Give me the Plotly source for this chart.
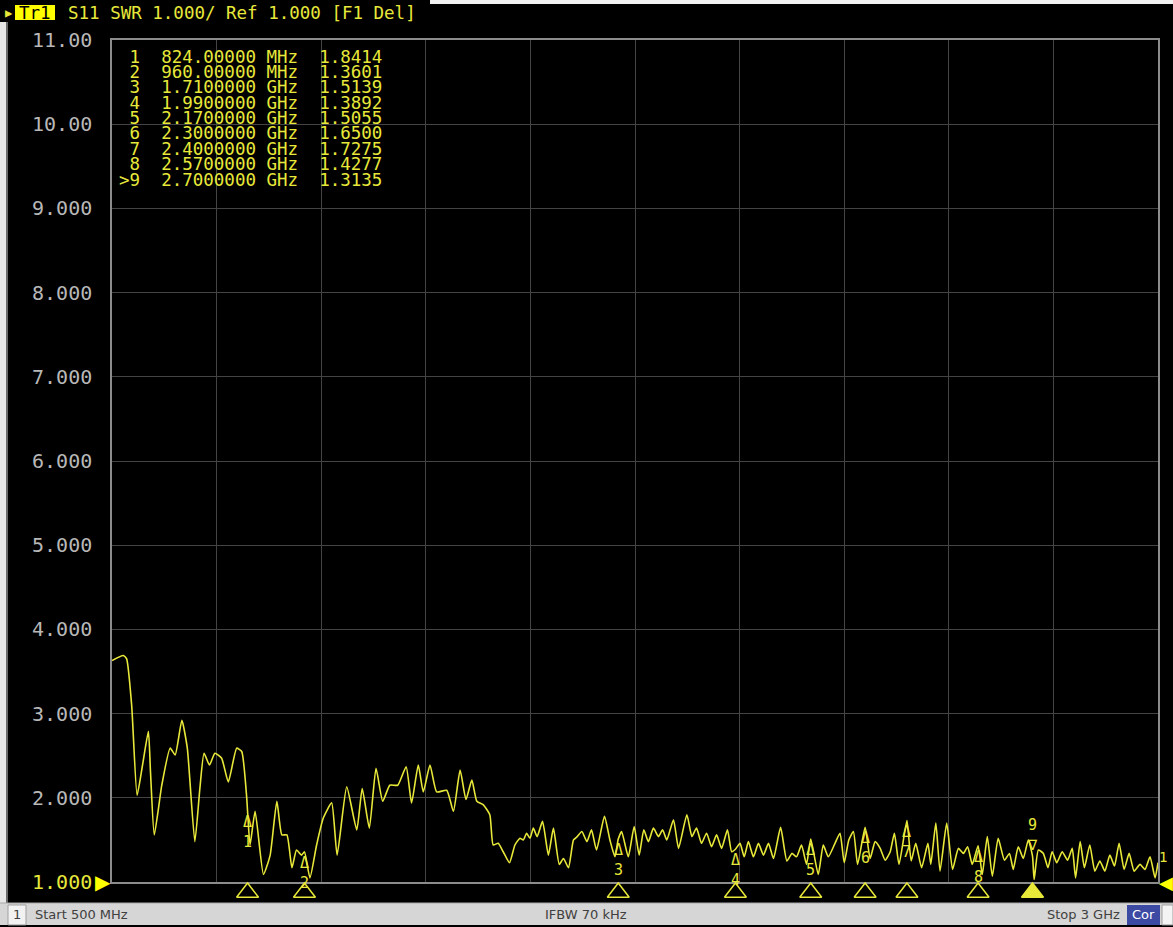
import plotly.graph_objects as go

# ---------------- data ----------------
freq_mhz = [
    500, 527, 535, 547, 560, 573, 587, 592, 601, 619,
    639, 651, 667, 680, 698, 710, 720, 733, 746, 762,
    778, 798, 810, 822, 824, 830, 842, 862, 878, 894,
    906, 918, 930, 941, 953, 960, 973, 989, 1005, 1025,
    1038, 1061, 1085, 1098, 1115, 1131, 1147, 1164, 1183, 1203,
    1216, 1232, 1244, 1260, 1276, 1300, 1316, 1332, 1346, 1360,
    1372, 1387, 1403, 1411, 1423, 1435, 1450, 1463, 1475, 1483,
    1491, 1499, 1507, 1516, 1529, 1543, 1555, 1569, 1579, 1591,
    1603, 1612, 1623, 1635, 1646, 1658, 1677, 1690, 1702, 1710,
    1718, 1734, 1748, 1760, 1771, 1782, 1794, 1806, 1816, 1826,
    1842, 1854, 1874, 1886, 1897, 1909, 1921, 1933, 1945, 1957,
    1971, 1981, 1990, 2001, 2011, 2021, 2033, 2045, 2057, 2069,
    2081, 2098, 2113, 2125, 2136, 2148, 2160, 2170, 2188, 2200,
    2212, 2228, 2240, 2250, 2261, 2272, 2282, 2300, 2312, 2324,
    2336, 2348, 2360, 2370, 2381, 2400, 2410, 2421, 2435, 2450,
    2457, 2469, 2479, 2495, 2509, 2523, 2535, 2545, 2556, 2570,
    2580, 2592, 2604, 2618, 2633, 2645, 2654, 2666, 2678, 2690,
    2700, 2704, 2714, 2726, 2737, 2747, 2758, 2771, 2784, 2795,
    2803, 2814, 2824, 2837, 2849, 2861, 2873, 2885, 2896, 2907,
    2919, 2931, 2943, 2957, 2969, 2981, 2993, 3000,
]
swr = [
    3.63, 3.69, 3.65, 3.10, 2.03, 2.39, 2.79, 2.31, 1.56, 2.15,
    2.59, 2.51, 2.92, 2.59, 1.48, 2.11, 2.53, 2.39, 2.53, 2.47,
    2.19, 2.59, 2.55, 2.00, 1.84, 1.44, 1.84, 1.09, 1.32, 1.96,
    1.56, 1.56, 1.17, 1.38, 1.32, 1.36, 1.05, 1.44, 1.76, 1.94,
    1.32, 2.13, 1.62, 2.11, 1.64, 2.35, 1.96, 2.15, 2.15, 2.37,
    1.94, 2.39, 2.07, 2.39, 2.07, 2.09, 1.84, 2.33, 1.98, 2.21,
    1.96, 1.92, 1.80, 1.44, 1.46, 1.36, 1.23, 1.44, 1.52, 1.50,
    1.58, 1.52, 1.64, 1.54, 1.72, 1.32, 1.64, 1.21, 1.28, 1.17,
    1.50, 1.54, 1.60, 1.48, 1.62, 1.38, 1.78, 1.50, 1.30, 1.51,
    1.60, 1.30, 1.66, 1.32, 1.62, 1.48, 1.64, 1.54, 1.62, 1.50,
    1.74, 1.40, 1.80, 1.54, 1.64, 1.46, 1.58, 1.42, 1.56, 1.40,
    1.62, 1.36, 1.39, 1.46, 1.30, 1.48, 1.30, 1.46, 1.32, 1.46,
    1.28, 1.65, 1.25, 1.34, 1.30, 1.44, 1.21, 1.51, 1.09, 1.44,
    1.30, 1.46, 1.58, 1.23, 1.50, 1.60, 1.21, 1.65, 1.28, 1.48,
    1.40, 1.26, 1.36, 1.58, 1.21, 1.73, 1.25, 1.46, 1.17, 1.46,
    1.21, 1.70, 1.13, 1.70, 1.15, 1.40, 1.34, 1.42, 1.21, 1.43,
    1.09, 1.54, 1.07, 1.52, 1.26, 1.34, 1.15, 1.42, 1.28, 1.50,
    1.31, 1.03, 1.38, 1.34, 1.17, 1.36, 1.23, 1.36, 1.26, 1.40,
    1.05, 1.48, 1.17, 1.44, 1.13, 1.25, 1.13, 1.32, 1.19, 1.46,
    1.15, 1.34, 1.13, 1.21, 1.15, 1.30, 1.05, 1.23,
]

marker_ids = ["1", "2", "3", "4", "5", "6", "7", "8", "9"]
marker_freq_mhz = [824, 960, 1710, 1990, 2170, 2300, 2400, 2570, 2700]
marker_freq_text = ["824.00000 MHz", "960.00000 MHz", "1.7100000 GHz",
                    "1.9900000 GHz", "2.1700000 GHz", "2.3000000 GHz",
                    "2.4000000 GHz", "2.5700000 GHz", "2.7000000 GHz"]
marker_swr = [1.8414, 1.3601, 1.5139, 1.3892, 1.5055, 1.6500, 1.7275, 1.4277, 1.3135]
active_marker = "9"

y_tickvals = [1, 2, 3, 4, 5, 6, 7, 8, 9, 10, 11]
y_ticktext = ["1.000", "2.000", "3.000", "4.000", "5.000", "6.000",
              "7.000", "8.000", "9.000", "10.00", "11.00"]

header_text = "S11 SWR 1.000/ Ref 1.000 [F1 Del]"
status_left = "Start 500 MHz"
status_mid = "IFBW 70 kHz"
status_right = "Stop 3 GHz"

# ---------------- styling ----------------
W, H = 1173, 927
L, R, T = 112, 1158, 40      # plot area (pixels)
B_MAIN, B_STRIP = 884, 905   # bottom of the grid, bottom of the marker strip
YEL = "#e8e83a"
MONO = "DejaVu Sans Mono"
SANS = "DejaVu Sans"


def px(x):
    return (x - L) / (R - L)


def py(y):
    return (B_STRIP - y) / (B_STRIP - T)


split = py(B_MAIN)

fig = go.Figure()

fig.add_trace(go.Scatter(
    x=freq_mhz, y=swr, mode="lines", xaxis="x", yaxis="y",
    line=dict(color=YEL, width=1.6, shape="spline", smoothing=0.5),
    hoverinfo="skip",
))

# marker triangles in the strip under the grid
fig.add_trace(go.Scatter(
    x=marker_freq_mhz, y=[0.5] * len(marker_freq_mhz), mode="markers",
    xaxis="x2", yaxis="y2",
    marker=dict(
        symbol=["triangle-up" if m == active_marker else "triangle-up-open" for m in marker_ids],
        size=19, color=YEL, line=dict(color=YEL, width=1.5)),
    cliponaxis=False, hoverinfo="skip",
))

ann = []
# header
ann.append(dict(x=px(3), y=py(12.5), xref="paper", yref="paper", text="▶",
                showarrow=False, xanchor="left", yanchor="middle",
                font=dict(family=MONO, size=12, color=YEL)))
ann.append(dict(x=px(35), y=py(12.5), xref="paper", yref="paper", text="Tr1",
                showarrow=False, xanchor="center", yanchor="middle",
                font=dict(family=MONO, size=17.5, color="#000000")))
ann.append(dict(x=px(66), y=py(12.5), xref="paper", yref="paper", text=header_text,
                showarrow=False, xanchor="left", yanchor="middle",
                font=dict(family=MONO, size=17.5, color=YEL)))

# marker table
NB = "\u00a0"
for i, (mid, ft, v) in enumerate(zip(marker_ids, marker_freq_text, marker_swr)):
    num = (">" + mid) if mid == active_marker else mid
    row = num.rjust(2, NB) + NB * 2 + ft.replace(" ", NB) + NB * 2 + f"{v:.4f}"
    ann.append(dict(x=px(117), y=py(56.7 + 15.4 * i), xref="paper", yref="paper",
                    text=row, showarrow=False, xanchor="left", yanchor="middle",
                    font=dict(family=MONO, size=17.5, color=YEL)))

# marker labels on the trace
for mid, f, v in zip(marker_ids, marker_freq_mhz, marker_swr):
    if mid == active_marker:
        ann.append(dict(x=f, y=v, xref="x", yref="y", text=mid + "<br>∇",
                        showarrow=False, xanchor="center", yanchor="bottom",
                        font=dict(family=MONO, size=15, color=YEL)))
    else:
        ann.append(dict(x=f, y=v, xref="x", yref="y", text="Δ<br>" + mid,
                        showarrow=False, xanchor="center", yanchor="top",
                        font=dict(family=MONO, size=15, color=YEL)))

# reference level triangles
ann.append(dict(x=0, y=1, xref="paper", yref="y", text="▶", showarrow=False,
                xanchor="right", yanchor="middle", xshift=1,
                font=dict(family=SANS, size=20, color="#ffff00")))
ann.append(dict(x=1, y=1, xref="paper", yref="y", text="◀", showarrow=False,
                xanchor="left", yanchor="middle", xshift=-1,
                font=dict(family=SANS, size=18, color="#ffff00")))
ann.append(dict(x=px(1163), y=py(859), xref="paper", yref="paper", text="1",
                showarrow=False, xanchor="center", yanchor="middle",
                font=dict(family=MONO, size=14, color=YEL)))

# status bar
ann.append(dict(x=px(17), y=py(917), xref="paper", yref="paper", text="1",
                showarrow=False, xanchor="center", yanchor="middle",
                font=dict(family=SANS, size=13, color="#404040")))
ann.append(dict(x=px(33), y=py(917), xref="paper", yref="paper", text=status_left,
                showarrow=False, xanchor="left", yanchor="middle",
                font=dict(family=SANS, size=13, color="#404040")))
ann.append(dict(x=px(586), y=py(917), xref="paper", yref="paper", text=status_mid,
                showarrow=False, xanchor="center", yanchor="middle",
                font=dict(family=SANS, size=13, color="#404040")))
ann.append(dict(x=px(1122), y=py(917), xref="paper", yref="paper", text=status_right,
                showarrow=False, xanchor="right", yanchor="middle",
                font=dict(family=SANS, size=13, color="#404040")))
ann.append(dict(x=px(1143.5), y=py(917), xref="paper", yref="paper", text="Cor",
                showarrow=False, xanchor="center", yanchor="middle",
                font=dict(family=SANS, size=13, color="#ffffff")))

shapes = [
    # Tr1 highlight box
    dict(type="rect", xref="paper", yref="paper", x0=px(15), x1=px(55), y0=py(5), y1=py(20),
         fillcolor="#ffff00", line=dict(width=0), layer="below"),
    # top light strip on the right
    dict(type="rect", xref="paper", yref="paper", x0=px(430), x1=px(1173), y0=py(0), y1=py(4),
         fillcolor="#f2f2f2", line=dict(width=0)),
    # left window frame
    dict(type="rect", xref="paper", yref="paper", x0=px(0), x1=px(6), y0=py(22), y1=py(905),
         fillcolor="#e6e6e6", line=dict(width=0)),
    dict(type="line", xref="paper", yref="paper", x0=px(7), x1=px(7), y0=py(22), y1=py(905),
         line=dict(color="#8c8c8c", width=1.5)),
    # status bar
    dict(type="rect", xref="paper", yref="paper", x0=px(0), x1=px(1173), y0=py(905), y1=py(927),
         fillcolor="#d6d6d6", line=dict(width=0)),
    dict(type="line", xref="paper", yref="paper", x0=px(0), x1=px(1173), y0=py(905), y1=py(905),
         line=dict(color="#a8a8a8", width=1)),
    dict(type="rect", xref="paper", yref="paper", x0=px(8), x1=px(26), y0=py(907), y1=py(927),
         fillcolor="#f2f2f2", line=dict(color="#a0a0a0", width=1)),
    dict(type="rect", xref="paper", yref="paper", x0=px(1127), x1=px(1160), y0=py(907), y1=py(927),
         fillcolor="#3d4aa3", line=dict(width=0)),
    dict(type="rect", xref="paper", yref="paper", x0=px(1162), x1=px(1173), y0=py(907), y1=py(927),
         fillcolor="#f4f4f4", line=dict(color="#a0a0a0", width=1)),
]

y_ticktext_styled = [f"<span style='color:{YEL}'>{t}</span>" if v == 1 else t
                     for v, t in zip(y_tickvals, y_ticktext)]

fig.update_layout(
    width=W, height=H,
    margin=dict(l=L, r=W - R, t=T, b=H - B_STRIP, pad=0),
    paper_bgcolor="#000000", plot_bgcolor="#000000",
    showlegend=False, hovermode=False,
    annotations=ann, shapes=shapes,
    xaxis=dict(range=[500, 3000], dtick=250, tick0=500, showticklabels=False,
               anchor="y",
               showgrid=True, gridcolor="#444444", gridwidth=1, zeroline=False,
               showline=True, linecolor="#8c8c8c", linewidth=1.5, mirror=True, ticks=""),
    yaxis=dict(range=[1, 11], domain=[split, 1], anchor="x",
               tickvals=y_tickvals, ticktext=y_ticktext_styled,
               showgrid=True, gridcolor="#444444", gridwidth=1, zeroline=False,
               showline=True, linecolor="#8c8c8c", linewidth=1.5, mirror=True,
               ticks="outside", ticklen=14, tickcolor="rgba(0,0,0,0)",
               tickfont=dict(family=MONO, size=20, color="#b8b8b8")),
    xaxis2=dict(matches="x", anchor="y2", showgrid=False, showline=False,
                showticklabels=False, zeroline=False, ticks=""),
    yaxis2=dict(range=[0, 1], domain=[0, split], anchor="x2", showgrid=False,
                showline=False, showticklabels=False, zeroline=False, ticks=""),
)

fig.write_html("out.html", config={"displayModeBar": False},
               post_script="document.body.style.margin='0';document.body.style.background='#000';")
